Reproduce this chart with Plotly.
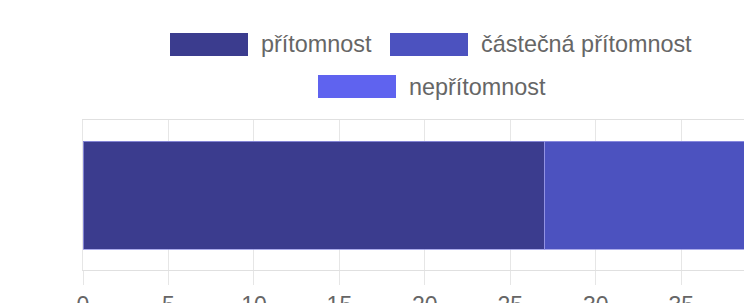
import plotly.graph_objects as go

# Data
categories = [""]
series_names = ["přítomnost", "částečná přítomnost", "nepřítomnost"]
series_values = [[27], [15], [6]]
series_colors = ["#3b3c8e", "#4c52bf", "#5f63ef"]
tick_values = [0, 5, 10, 15, 20, 25, 30, 35, 40]

W, H = 744, 303
L, R, T = 83, 0, 120
B = H - 270
pw, ph = W - L - R, H - T - B

fig = go.Figure()
for name, vals, col in zip(series_names, series_values, series_colors):
    fig.add_trace(go.Bar(
        y=[0], x=vals, name=name, orientation="h",
        marker=dict(color=col, line=dict(color="rgba(150,150,230,0.8)", width=1)),
        showlegend=False,
    ))

def px_to_paper(x, y):
    return (x - L) / pw, (H - B - y) / ph

# manual legend (Chart.js-style wide boxes): box left, box top in pixels
legend_items = [(170, 33), (390, 33), (318, 75)]
shapes = []
annotations = []
for (bx, by), name, col in zip(legend_items, series_names, series_colors):
    x0, y1 = px_to_paper(bx, by)
    x1, y0 = px_to_paper(bx + 78, by + 23)
    shapes.append(dict(type="rect", xref="paper", yref="paper", x0=x0, x1=x1, y0=y0, y1=y1,
                       fillcolor=col, line=dict(width=0), layer="above"))
    tx, ty = px_to_paper(bx + 89, by + 11.5)
    annotations.append(dict(xref="paper", yref="paper", x=tx, y=ty, text=name, showarrow=False,
                            xanchor="left", yanchor="middle",
                            font=dict(family="Liberation Sans, Arial, sans-serif", size=23.4, color="#666666")))

fig.update_layout(
    width=W, height=H,
    margin=dict(l=L, r=R, t=T, b=B, pad=0, autoexpand=False),
    paper_bgcolor="white", plot_bgcolor="white",
    barmode="stack", bargap=0.28,
    hovermode=False,
    font=dict(family="Liberation Sans, Arial, sans-serif", size=23, color="#666666"),
    shapes=shapes, annotations=annotations,
    xaxis=dict(range=[0, 38.67], tickmode="array", tickvals=tick_values, automargin=False,
               showgrid=True, gridcolor="#e6e6e6", gridwidth=1,
               zeroline=False, showline=True, linecolor="#e0e0e0", linewidth=1, mirror=True,
               ticks="outside", ticklen=14, tickcolor="#e6e6e6", tickwidth=1,
               tickfont=dict(size=23, color="#666666")),
    yaxis=dict(range=[-0.5, 0.5], showticklabels=False, showgrid=False, zeroline=False,
               automargin=False,
               showline=True, linecolor="#e6e6e6", linewidth=1, ticks=""),
)

fig.write_html(
    "out.html",
    config={"displayModeBar": False},
    post_script="document.body.style.margin='0';document.body.style.overflow='hidden';",
)
